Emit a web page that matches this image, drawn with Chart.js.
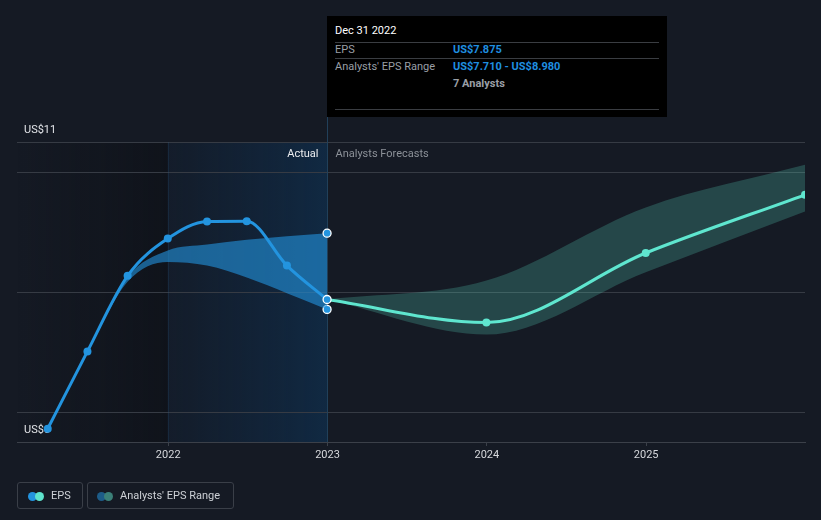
<!DOCTYPE html>
<html>
<head>
<meta charset="utf-8">
<script src="https://cdn.jsdelivr.net/npm/chart.js@4/dist/chart.umd.min.js"></script>
<style>
  html, body { margin:0; padding:0; background:#151a24; }
  #wrap { position:relative; width:821px; height:520px; overflow:hidden; font-family: Roboto, "Noto Sans", sans-serif; }
  #c { position:absolute; left:0; top:0; }
  #tip { position:absolute; top:16px; width:340px; height:101px; background:#000; font-size:11px; }
  #tip .t { position:absolute; white-space:nowrap; line-height:14px; }
  #tip .sep { position:absolute; left:8px; width:324px; height:1px; background:#3a3d42; }
  .legend { position:absolute; top:482px; height:27px; border:1px solid #3a3f48; border-radius:3px; box-sizing:border-box; font-size:11px; color:#cdd1d6; }
  .legend .dot { position:absolute; top:8.5px; width:9px; height:9px; border-radius:50%; }
  .legend .lbl { position:absolute; top:6px; line-height:14px; white-space:nowrap; }
</style>
</head>
<body>
<div id="wrap">
  <canvas id="c" width="821" height="520"></canvas>
  <div id="tip">
    <div class="t" style="left:8px;top:8px;color:#fff;">Dec 31 2022</div>
    <div class="sep" style="top:26px;"></div>
    <div class="t" style="left:8px;top:27px;color:#9a9fa6;">EPS</div>
    <div class="t" id="tipEps" style="left:126px;top:27px;color:#1f8fe0;font-weight:bold;"></div>
    <div class="sep" style="top:42px;"></div>
    <div class="t" style="left:8px;top:44px;color:#9a9fa6;">Analysts' EPS Range</div>
    <div class="t" id="tipRange" style="left:126px;top:44px;color:#1f8fe0;font-weight:bold;"></div>
    <div class="t" id="tipCount" style="left:126px;top:61px;color:#9a9fa6;font-weight:bold;"></div>
    <div class="sep" style="top:93px;"></div>
  </div>
  <div class="legend" style="left:17px;width:66px;">
    <div class="dot" style="left:10px;background:#2394df;"></div>
    <div class="dot" style="left:17px;background:#5ee4cd;"></div>
    <div class="lbl" style="left:33px;">EPS</div>
  </div>
  <div class="legend" style="left:87px;width:147px;">
    <div class="dot" style="left:9px;background:#1d5c88;"></div>
    <div class="dot" style="left:16px;background:#3b8078;"></div>
    <div class="lbl" style="left:32px;">Analysts' EPS Range</div>
  </div>
</div>
<script>
// ---------- data ----------
const histDates = ["2021-03-31","2021-06-30","2021-09-30","2021-12-31","2022-03-31","2022-06-30","2022-09-30","2022-12-31"];
const histEps   = [5.72, 7.01, 8.27, 8.89, 9.175, 9.18, 8.44, 7.875];

const histRangeDates = ["2021-06-30","2021-09-30","2021-12-31","2022-03-31","2022-06-30","2022-09-30","2022-12-31"];
const histRangeHigh  = [7.01, 8.25, 8.69, 8.79, 8.87, 8.93, 8.98];
const histRangeLow   = [7.01, 8.17, 8.50, 8.44, 8.24, 7.98, 7.71];

const fcDates = ["2022-12-31","2023-12-31","2024-12-31","2025-12-31"];
const fcEps   = [7.875, 7.49, 8.65, 9.62];
const fcHigh  = [7.875, 8.19, 9.41, 10.12];
const fcLow   = [7.875, 7.29, 8.33, 9.34];

const tickYears   = [2022, 2023, 2024, 2025];
const yMin = 5.5, yMax = 10.5;
const yGridValues = [6, 8, 10];
const yLabelBottom = "US$6";
const yLabelTop    = "US$11";
const xMin = 2021.051, xMax = 2025.997;
const actualStart = "2021-12-31";
const splitDate   = "2022-12-31";
const analystCount = 7;

// ---------- helpers ----------
function toYear(s) {
  const d = new Date(s + "T00:00:00Z");
  const y = d.getUTCFullYear();
  const a = Date.UTC(y, 0, 1), b = Date.UTC(y + 1, 0, 1);
  return y + (d.getTime() - a) / (b - a);
}
function pts(dates, vals) { return dates.map((d, i) => ({ x: toYear(d), y: vals[i] })); }

const BLUE = "#2394df", TEAL = "#5fe6cf";
const FONT = "Roboto, 'Noto Sans', sans-serif";

const lastIdx = (arr) => arr.length - 1;

const bgPlugin = {
  id: "bg",
  beforeDraw(chart) {
    const { ctx, chartArea: ca, scales } = chart;
    const x = scales.x;
    const xa = x.getPixelForValue(toYear(actualStart));
    const xs = x.getPixelForValue(toYear(splitDate));
    ctx.save();
    let g = ctx.createLinearGradient(ca.left, 0, xa, 0);
    g.addColorStop(0, "rgba(8,10,14,0)");
    g.addColorStop(1, "rgba(8,10,14,0.4)");
    ctx.fillStyle = g;
    ctx.fillRect(ca.left, ca.top, xa - ca.left, ca.bottom - ca.top);
    g = ctx.createLinearGradient(xa, 0, xs, 0);
    g.addColorStop(0, "rgba(12,50,90,0.12)");
    g.addColorStop(1, "rgba(12,58,100,0.48)");
    ctx.fillStyle = g;
    ctx.fillRect(xa, ca.top, xs - xa, ca.bottom - ca.top);
    ctx.restore();
  },
  beforeDatasetsDraw(chart) {
    const { ctx, chartArea: ca, scales } = chart;
    const x = scales.x;
    const xa = Math.round(x.getPixelForValue(toYear(actualStart))) + 0.5;
    const xs = Math.round(x.getPixelForValue(toYear(splitDate))) + 0.5;
    ctx.save();
    ctx.lineWidth = 1;
    ctx.strokeStyle = "rgba(40,90,130,0.22)";
    ctx.beginPath(); ctx.moveTo(xa, ca.top); ctx.lineTo(xa, ca.bottom); ctx.stroke();
    ctx.strokeStyle = "#21405a";
    ctx.beginPath(); ctx.moveTo(xs, 117); ctx.lineTo(xs, ca.bottom); ctx.stroke();
    ctx.font = "11px " + FONT;
    ctx.fillStyle = "#e2e4e8";
    ctx.textBaseline = "middle";
    ctx.textAlign = "left";
    ctx.fillText(yLabelTop, ca.left + 7, ca.top - 12);
    ctx.fillText(yLabelBottom, ca.left + 7, ca.bottom - 12);
    ctx.textAlign = "right";
    ctx.fillStyle = "#eceef0";
    ctx.fillText("Actual", xs - 9, ca.top + 12);
    ctx.textAlign = "left";
    ctx.fillStyle = "#8c9198";
    ctx.fillText("Analysts Forecasts", xs + 8, ca.top + 12);
    ctx.restore();
  }
};

const markerStyle = (n) => ({
  pointRadius: (c) => c.dataIndex === n ? 4 : 0,
  pointHoverRadius: (c) => c.dataIndex === n ? 4 : 0,
  pointBackgroundColor: BLUE,
  pointBorderColor: "#ffffff",
  pointBorderWidth: 1.3,
});

const chart = new Chart(document.getElementById("c"), {
  type: "line",
  data: {
    datasets: [
      Object.assign({
        label: "Range high (actual)",
        data: pts(histRangeDates, histRangeHigh),
        borderWidth: 0, borderColor: "rgba(0,0,0,0)",
        backgroundColor: "rgba(35,148,223,0.6)",
        fill: "+1", order: 3, cubicInterpolationMode: "monotone",
      }, markerStyle(lastIdx(histRangeDates))),
      Object.assign({
        label: "Range low (actual)",
        data: pts(histRangeDates, histRangeLow),
        borderWidth: 0, borderColor: "rgba(0,0,0,0)",
        backgroundColor: "rgba(35,148,223,0.6)",
        fill: false, order: 3, cubicInterpolationMode: "monotone",
      }, markerStyle(lastIdx(histRangeDates))),
      {
        label: "Range high (forecast)",
        data: pts(fcDates, fcHigh),
        borderWidth: 0, borderColor: "rgba(0,0,0,0)",
        backgroundColor: "rgba(94,232,204,0.22)",
        fill: "+1", order: 4, pointRadius: 0, cubicInterpolationMode: "monotone",
      },
      {
        label: "Range low (forecast)",
        data: pts(fcDates, fcLow),
        borderWidth: 0, borderColor: "rgba(0,0,0,0)",
        backgroundColor: "rgba(94,232,204,0.22)",
        fill: false, order: 4, pointRadius: 0, cubicInterpolationMode: "monotone",
      },
      {
        label: "EPS forecast",
        data: pts(fcDates, fcEps),
        borderColor: TEAL, borderWidth: 3,
        backgroundColor: TEAL,
        pointRadius: (c) => c.dataIndex === 0 ? 0 : 4,
        pointBackgroundColor: TEAL, pointBorderWidth: 0,
        fill: false, order: 1, cubicInterpolationMode: "monotone",
        clip: { left: 5, top: 5, right: 0, bottom: 5 },
      },
      {
        label: "EPS",
        data: pts(histDates, histEps),
        borderColor: BLUE, borderWidth: 3,
        backgroundColor: BLUE,
        pointRadius: 4,
        pointBackgroundColor: BLUE,
        pointBorderColor: "#ffffff",
        pointBorderWidth: (c) => c.dataIndex === lastIdx(histDates) ? 1.3 : 0,
        fill: false, order: 0, cubicInterpolationMode: "monotone",
      },
    ]
  },
  options: {
    responsive: false,
    animation: false,
    devicePixelRatio: 1,
    layout: { padding: { left: 17, right: 16, top: 142, bottom: 0 } },
    plugins: { legend: { display: false }, tooltip: { enabled: false } },
    events: [],
    scales: {
      x: {
        type: "linear", min: xMin, max: xMax,
        afterBuildTicks: (s) => { s.ticks = tickYears.map(v => ({ value: v })); },
        afterFit: (s) => { s.height = 78; },
        ticks: { color: "#d6d8dc", font: { family: FONT, size: 11 }, padding: 3, maxRotation: 0,
                 callback: (v) => String(v) },
        grid: { drawOnChartArea: false, drawTicks: true, tickLength: 4, color: "#3b4049" },
        border: { display: true, color: "#3b4049" },
      },
      y: {
        type: "linear", min: yMin, max: yMax,
        afterBuildTicks: (s) => { s.ticks = [yMin, ...yGridValues, yMax].map(v => ({ value: v })); },
        afterFit: (s) => { s.width = 0; },
        ticks: { display: false },
        grid: { drawTicks: false, color: "#363b44", lineWidth: 1 },
        border: { display: false },
      }
    }
  },
  plugins: [bgPlugin]
});

const iS = lastIdx(histDates);
document.getElementById("tipEps").textContent = "US$" + histEps[iS].toFixed(3);
document.getElementById("tipRange").textContent = "US$" + histRangeLow[lastIdx(histRangeLow)].toFixed(3) + " - US$" + histRangeHigh[lastIdx(histRangeHigh)].toFixed(3);
document.getElementById("tipCount").textContent = analystCount + " Analysts";
document.getElementById("tip").style.left = Math.round(chart.scales.x.getPixelForValue(toYear(splitDate))) + "px";
</script>
</body>
</html>
